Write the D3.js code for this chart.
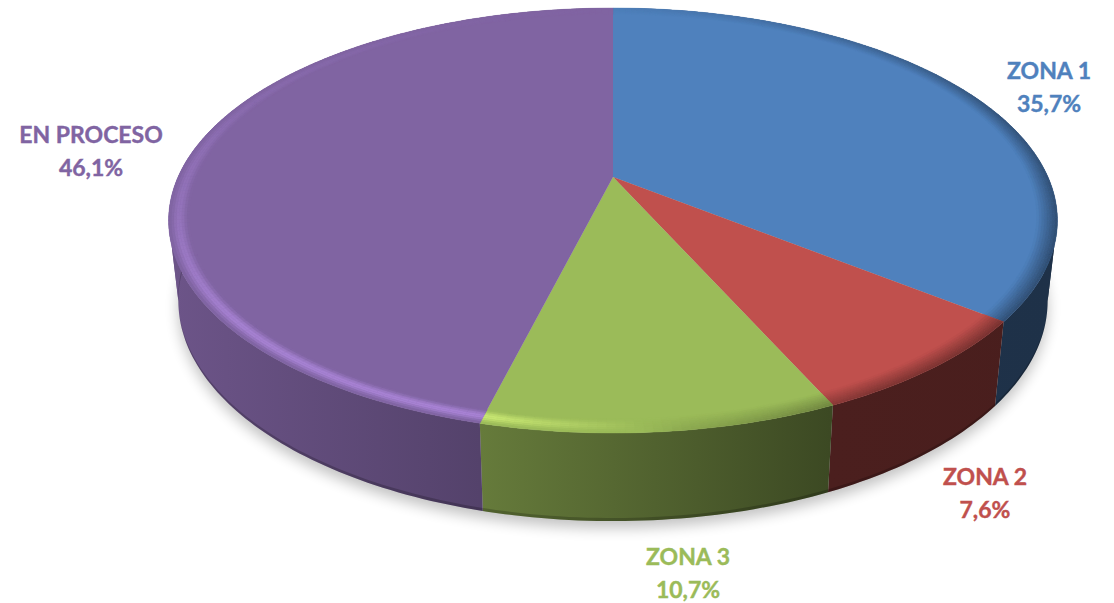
<!DOCTYPE html>
<html>
<head>
<meta charset="utf-8">
<script src="https://cdnjs.cloudflare.com/ajax/libs/d3/7.8.5/d3.min.js"></script>
<style>
  html, body { margin: 0; padding: 0; background: #fff; }
  svg { display: block; }
  .label { font-family: Lato, "Open Sans", sans-serif; font-weight: 700; font-size: 23px; text-anchor: middle; stroke-width: 0.4; }
</style>
</head>
<body>
<div id="chart"></div>
<script>
'use strict';

// values
const categories = ['ZONA 1', 'ZONA 2', 'ZONA 3', 'EN PROCESO'];
const values = [35.7, 7.6, 10.7, 46.1];
const valueLabels = ['35,7%', '7,6%', '10,7%', '46,1%'];
const colors = ['#4f81bd', '#c0504d', '#9bbb59', '#8064a2'];

const width = 1114, height = 603;
const svg = d3.select('#chart').append('svg')
    .attr('width', width)
    .attr('height', height);

// perspective of the disc, fitted by eye
const cx = 613, cy = 177, rx = 435, ry = 203.6, k = 0.2047;
const deg = Math.PI / 180;

function project(theta, r, z) {
    const u = r * Math.sin(theta), v = -r * Math.cos(theta), w = 1 - k * v;
    const x = cx + rx * u / w, y = cy + ry * v / w;
    return [cx + (x - cx) * (1 - 0.022 * z), y + z * (y * 0.036 + 72.5)];
}

const line = d3.line();
const pie = d3.pie().sort(null).value(d => d);
const arcs = pie(values);

// side wall gets darker from left to right
const shadeStops = [[175, 0.84], [480, 0.66], [830, 0.39], [1060, 0.38]];
// rim light by angle: positive is highlight, negative is shadow
const rimLight = d3.scaleLinear()
    .domain([0, 30, 70, 110, 150, 172, 195, 230, 260, 290, 330, 360])
    .range([-0.05, -0.3, -0.65, -0.75, -0.65, -0.2, 0.7, 0.65, 0.35, 0.18, 0.05, 0]);

// where the outline turns back on itself, the wall has to be split there
const turnRight = Math.acos(-k), turnLeft = 2 * Math.PI - turnRight;

function shade(color, f) {
    const c = d3.rgb(color);
    return d3.rgb(c.r * f, c.g * f, c.b * f).formatHex();
}
function rimColor(color, h) {
    if (h >= 0) return d3.interpolateRgb(color, shade(color, 1.45))(h);
    return d3.interpolateRgb(color, shade(color, 0.45))(-h);
}

const defs = svg.append('defs');

// shadow on the ground
defs.append('filter').attr('id', 'soft')
    .attr('x', '-10%').attr('y', '-10%').attr('width', '120%').attr('height', '130%')
  .append('feGaussianBlur').attr('stdDeviation', 7);

const ring = d3.range(0, 360, 1).map(a => {
    const p = project(a * deg, 1, 1);
    return [p[0], p[1] + 7];
});
svg.append('path')
    .attr('d', line(ring) + 'Z')
    .attr('fill', '#000')
    .attr('opacity', 0.24)
    .attr('filter', 'url(#soft)');

const step = 1 * deg;

function angleRange(a0, a1) {
    return d3.range(a0, a1, step).concat([a1]);
}

arcs.forEach((d, i) => {
    const color = colors[i];
    const g = svg.append('g').attr('class', 'slice');
    const angles = angleRange(d.startAngle, d.endAngle);

    // side wall, left to right gradient
    const grad = defs.append('linearGradient')
        .attr('id', 'wall-' + i)
        .attr('gradientUnits', 'userSpaceOnUse')
        .attr('x1', 175).attr('x2', 1060).attr('y1', 0).attr('y2', 0);
    grad.selectAll('stop')
        .data(shadeStops)
        .join('stop')
        .attr('offset', s => (s[0] - 175) / 885)
        .attr('stop-color', s => shade(color, s[1]));

    const cuts = [d.startAngle]
        .concat([turnRight, turnLeft].filter(t => t > d.startAngle && t < d.endAngle))
        .concat([d.endAngle]);
    d3.pairs(cuts).forEach(([a0, a1]) => {
        const part = angleRange(a0, a1);
        const upper = part.map(a => project(a, 1, 0));
        const lower = part.map(a => project(a, 1, 1)).reverse();
        const lip = part.map(a => project(a, 1, 0.965));
        g.append('path')
            .attr('d', line(upper.concat(lower)) + 'Z')
            .attr('fill', `url(#wall-${i})`);
        // darker lip along the bottom of the wall
        g.append('path')
            .attr('d', line(lip.concat(lower)) + 'Z')
            .attr('fill', '#000')
            .attr('opacity', 0.2);
    });

    // top face
    g.append('path')
        .attr('d', line([[cx, cy]].concat(angles.map(a => project(a, 1, 0)))) + 'Z')
        .attr('fill', color);

    // bevel along the outer edge
    const bands = d3.range(0, 8);
    const rim = g.append('g');
    d3.pairs(angles).forEach(([a0, a1]) => {
        const h = rimLight((a0 + a1) / 2 / deg);
        bands.forEach(b => {
            const t0 = b / bands.length, t1 = (b + 1) / bands.length, t = (t0 + t1) / 2;
            const r0 = 0.955 + 0.045 * t0, r1 = 0.955 + 0.045 * t1;
            // highlight peaks mid band, shadow grows to the outer edge
            const amt = h >= 0 ? h * Math.pow(Math.sin(Math.PI * t), 2) : h * t;
            const c = rimColor(color, amt);
            rim.append('path')
                .attr('d', line([project(a0, r0, 0), project(a1, r0, 0), project(a1, r1, 0), project(a0, r1, 0)]) + 'Z')
                .attr('fill', c)
                .attr('stroke', c)
                .attr('stroke-width', 0.4);
        });
    });
});

// labels
const labelSpots = [[1049, 79], [985, 485], [688, 565], [91, 143]];
const labels = svg.selectAll('g.label-group')
    .data(categories)
    .join('g')
    .attr('class', 'label-group');
labels.append('text')
    .attr('class', 'label')
    .attr('x', (d, i) => labelSpots[i][0])
    .attr('y', (d, i) => labelSpots[i][1])
    .attr('fill', (d, i) => colors[i])
    .attr('stroke', (d, i) => colors[i])
    .text(d => d);
labels.append('text')
    .attr('class', 'label')
    .attr('x', (d, i) => labelSpots[i][0])
    .attr('y', (d, i) => labelSpots[i][1] + 33)
    .attr('fill', (d, i) => colors[i])
    .attr('stroke', (d, i) => colors[i])
    .text((d, i) => valueLabels[i]);
</script>
</body>
</html>
